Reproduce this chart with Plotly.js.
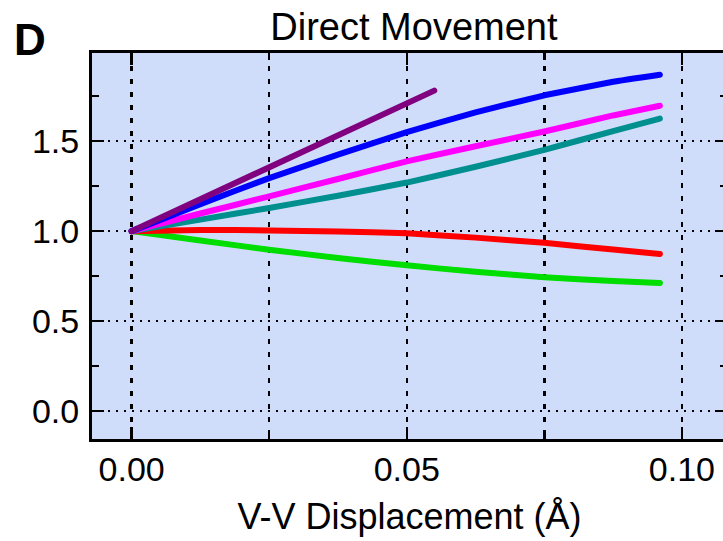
<!DOCTYPE html>
<html>
<head>
<meta charset="utf-8">
<script src="https://cdn.plot.ly/plotly-3.0.1.min.js"></script>
<style>
  html, body { margin: 0; padding: 0; overflow: hidden; background: #fff; }
  #chart { width: 740px; height: 541px; }
  path.js-line { stroke-linecap: round !important; stroke-linejoin: round !important; }
</style>
</head>
<body>
<div id="chart"></div>
<script>
// ---- data ----
const xVals      = [0, 0.0125, 0.025, 0.0375, 0.05, 0.0625, 0.075, 0.0875, 0.096];
const blueVals   = [1.0, 1.15, 1.295, 1.425, 1.55, 1.66, 1.755, 1.83, 1.869];
const magentaVals= [1.0, 1.098, 1.193, 1.29, 1.388, 1.472, 1.554, 1.643, 1.697];
const tealVals   = [1.0, 1.064, 1.129, 1.197, 1.27, 1.358, 1.452, 1.556, 1.625];
const redVals    = [1.0, 1.007, 1.004, 0.998, 0.988, 0.964, 0.935, 0.898, 0.873];
const greenVals  = [1.0, 0.948, 0.897, 0.851, 0.81, 0.774, 0.744, 0.723, 0.712];
const purpleX    = [0, 0.055];
const purpleVals = [1.0, 1.781];

const titleText = 'Direct Movement';
const xTitle = 'V-V Displacement (Å)';
const panelLabel = 'D';

const FONT = 'Liberation Sans, Arial, sans-serif';
const LW = 6;

function tr(x, y, color) {
  return { x: x, y: y, type: 'scatter', mode: 'lines',
           line: { color: color, width: LW, shape: 'spline', smoothing: 0.3 },
           hoverinfo: 'skip', showlegend: false };
}

const data = [
  tr(xVals, greenVals, '#00DD00'),
  tr(xVals, redVals, '#FF0000'),
  tr(xVals, tealVals, '#008F8F'),
  tr(xVals, magentaVals, '#FF00FF'),
  tr(xVals, blueVals, '#0000FF'),
  tr(purpleX, purpleVals, '#800080')
];

const layout = {
  width: 740, height: 541,
  margin: { l: 92, r: 13, t: 53, b: 102, pad: 0 },
  paper_bgcolor: '#FFFFFF',
  plot_bgcolor: '#CFDDFB',
  font: { family: FONT, color: '#000', size: 34 },
  title: { text: titleText, font: { family: FONT, size: 38, color: '#000' },
           xref: 'paper', x: 0.507, xanchor: 'center',
           yref: 'container', y: 1 - 27/541, yanchor: 'middle' },
  xaxis: {
    range: [-0.0072, 0.1082],
    tick0: 0, dtick: 0.05, tickformat: '.2f',
    ticks: 'inside', ticklen: 12, tickwidth: 2.5, tickcolor: '#000',
    showline: true, linewidth: 3, linecolor: '#000', mirror: 'allticks',
    showgrid: true, gridcolor: '#000', gridwidth: 2.5, griddash: '5px,8px',
    zeroline: false,
    tickfont: { family: FONT, size: 34, color: '#000' },
    ticklabelstandoff: -2,
    minor: { tick0: 0, dtick: 0.025, ticks: 'inside', ticklen: 7, tickwidth: 2.5, tickcolor: '#000',
             showgrid: true, gridcolor: '#000', gridwidth: 2.5, griddash: '5px,8px' },
    title: { text: xTitle, font: { family: FONT, size: 36, color: '#000' }, standoff: 18 }
  },
  yaxis: {
    range: [-0.155, 1.99],
    tick0: 0, dtick: 0.5, tickformat: '.1f',
    ticks: 'inside', ticklen: 12, tickwidth: 2.5, tickcolor: '#000',
    showline: true, linewidth: 3, linecolor: '#000', mirror: 'allticks',
    showgrid: true, gridcolor: '#000', gridwidth: 2, griddash: '2px,6px',
    zeroline: false,
    tickfont: { family: FONT, size: 34, color: '#000' },
    ticklabelstandoff: 3,
    minor: { tick0: 0, dtick: 0.25, ticks: 'inside', ticklen: 7, tickwidth: 2.5, tickcolor: '#000',
             showgrid: false }
  },
  annotations: [{
    text: '<b>' + panelLabel + '</b>', xref: 'paper', yref: 'paper',
    x: -0.097, y: 1.035, xanchor: 'center', yanchor: 'middle', showarrow: false,
    font: { family: FONT, size: 44, color: '#000' }
  }]
};

Plotly.newPlot('chart', data, layout, { staticPlot: true, displayModeBar: false });
</script>
</body>
</html>
